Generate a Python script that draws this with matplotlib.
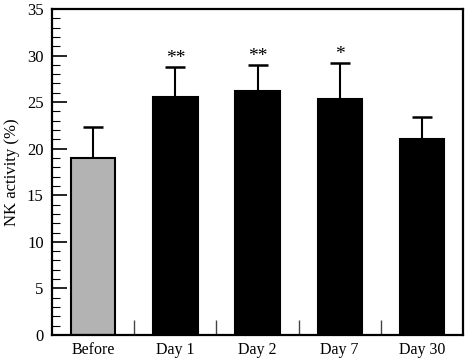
import numpy as np
import matplotlib.pyplot as plt
from matplotlib.ticker import MultipleLocator, FixedLocator

plt.rcParams["font.family"] = ["Liberation Serif", "DejaVu Serif"]

# data
groups = ["Before", "Day 1", "Day 2", "Day 7", "Day 30"]
means = [19.0, 25.6, 26.2, 25.3, 21.0]
sds = [3.3, 3.2, 2.8, 3.9, 2.4]
stars = ["", "**", "**", "*", ""]
colors = ["#b3b3b3", "black", "black", "black", "black"]

fig = plt.figure(figsize=(4.66, 3.58), dpi=100)
ax = fig.add_axes([0.1116, 0.0642, 0.8820, 0.9108])

x = np.arange(len(groups))
ax.bar(x, means, width=0.54, color=colors, edgecolor="black", linewidth=1.5, zorder=2)
ax.errorbar(x, means, yerr=[np.zeros(len(sds)), sds], fmt="none", ecolor="black",
            elinewidth=1.5, capsize=7.5, capthick=1.8, zorder=1)

for xi, m, s, st in zip(x, means, sds, stars):
    if st:
        ax.annotate(st, (xi, m + s), xytext=(0, 0), textcoords="offset points",
                    ha="center", va="bottom", fontsize=14)

ax.set_xlim(-0.5, 4.5)
ax.set_ylim(0, 35)
ax.set_xticks(x)
ax.set_xticklabels(groups, fontsize=11.5)
ax.xaxis.set_minor_locator(FixedLocator([0.5, 1.5, 2.5, 3.5]))
ax.tick_params(axis="x", which="major", length=0, pad=5)
ax.tick_params(axis="x", which="minor", direction="in", length=11, width=1, color="#444")

ax.yaxis.set_major_locator(MultipleLocator(5))
ax.yaxis.set_minor_locator(MultipleLocator(1))
ax.tick_params(axis="y", which="major", direction="in", length=11, width=1.2, labelsize=12, pad=6)
ax.tick_params(axis="y", which="minor", direction="in", length=6, width=0.8)
ax.set_ylabel("NK activity (%)", fontsize=12, labelpad=5)

for sp in ax.spines.values():
    sp.set_linewidth(1.6)

fig.savefig("out.png", dpi=100)
